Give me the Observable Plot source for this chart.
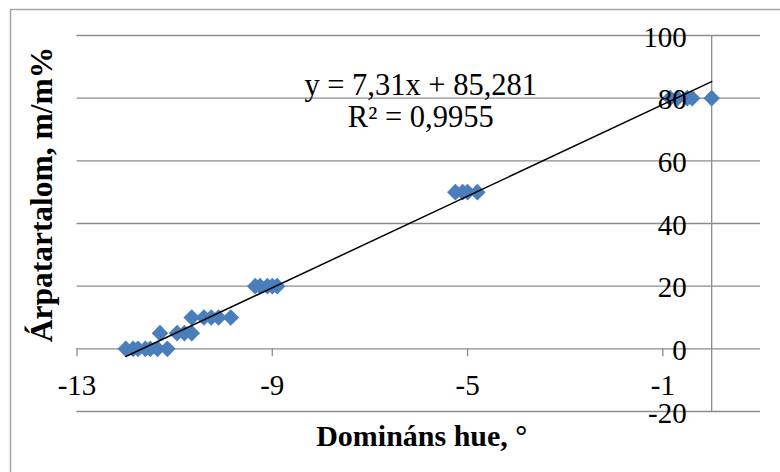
<!DOCTYPE html>
<html><head><meta charset="utf-8">
<script src="https://cdn.jsdelivr.net/npm/d3@7"></script>
<script src="https://cdn.jsdelivr.net/npm/@observablehq/plot@0.6"></script>
<style>body{margin:0;background:#fff;overflow:hidden}#chart{width:780px;height:472px}</style>
</head><body><div id="chart"></div>
<script>
// Data (dominant hue in degrees vs. barley content m/m%)
const hueValues = [
  -12.0, -11.85, -11.75, -11.6, -11.5, -11.35, -11.15,
  -11.3, -10.95, -10.8, -10.65,
  -10.65, -10.4, -10.25, -10.1, -9.85,
  -9.35, -9.25, -9.1, -9.0, -8.9,
  -5.25, -5.1, -5.0, -4.8,
  -0.85, -0.7, -0.5, -0.4, 0.0
];
const barleyValues = [
  0, 0, 0, 0, 0, 0, 0,
  5, 5, 5, 5,
  10, 10, 10, 10, 10,
  20, 20, 20, 20, 20,
  50, 50, 50, 50,
  80, 80, 80, 80, 80
];
const xTicks = [-13, -9, -5, -1];
const yTicks = [-20, 0, 20, 40, 60, 80, 100];
const trendSlope = 7.31;
const trendIntercept = 85.281;
const rSquared = 0.9955;
const xTitle = "Domináns hue, °";
const yTitle = "Árpatartalom, m/m%";

const comma = v => String(v).replace(".", ",");
const equationText = `y = ${comma(trendSlope)}x + ${comma(trendIntercept)}\nR² = ${comma(rSquared)}`;

const points = hueValues.map((x, i) => ({x, y: barleyValues[i]}));
const [xmin, xmax] = d3.extent(hueValues);
const trend = [xmin, xmax].map(x => ({x, y: trendSlope * x + trendIntercept}));

const gridColor = "#8c8c8c";
const serif = "'Liberation Serif','Times New Roman',serif";

const chart = Plot.plot({
  width: 780, height: 472,
  marginLeft: 76.5, marginRight: 20, marginTop: 35, marginBottom: 61,
  x: {domain: [-13, 1], axis: null},
  y: {domain: [-20, 100], axis: null},
  style: {fontFamily: serif, background: "white", color: "black"},
  marks: [
    Plot.ruleY(yTicks, {stroke: gridColor, strokeWidth: 1.3}),
    Plot.ruleX([0], {stroke: gridColor, strokeWidth: 1.3}),
    Plot.ruleX(xTicks, {x: d => d, y1: () => 0, y2: () => 0, insetBottom: -8, stroke: gridColor, strokeWidth: 1.3}),
    Plot.dot(points, {x: "x", y: "y", symbol: "diamond2", r: 7.5, fill: "#4a7ebb"}),
    Plot.line(trend, {x: "x", y: "y", stroke: "black", strokeWidth: 1.5}),
    Plot.text(yTicks, {x: () => 0, y: d => d, text: d => String(d), textAnchor: "end", dx: -25, dy: 2, fontSize: 29, fontFamily: serif, fill: "black"}),
    Plot.text(xTicks, {x: d => d, y: () => 0, text: d => String(d), lineAnchor: "bottom", dy: 46.5, fontSize: 29, fontFamily: serif, fill: "black"}),
    Plot.text([equationText], {frameAnchor: "top", text: d => d, textAnchor: "middle", lineAnchor: "bottom", lineHeight: 1.02, dx: 2, dy: 91, fontSize: 30.5, fontFamily: serif, fill: "black"}),
    Plot.text([xTitle], {frameAnchor: "bottom", text: d => d, textAnchor: "middle", lineAnchor: "bottom", dx: 3, dy: 34, fontSize: 30, fontWeight: "bold", fontFamily: serif, fill: "black"}),
    Plot.text([yTitle], {frameAnchor: "left", text: d => d, rotate: -90, textAnchor: "middle", lineAnchor: "bottom", dx: -25, dy: -29, fontSize: 31.5, fontWeight: "bold", fontFamily: serif, fill: "black"})
  ]
});

d3.select(chart).append("rect")
  .attr("x", 10.5).attr("y", 9.5).attr("width", 800).attr("height", 500)
  .attr("fill", "none").attr("stroke", "#a6a6a6").attr("stroke-width", 1.5);

document.getElementById("chart").appendChild(chart);
</script>
</body></html>
